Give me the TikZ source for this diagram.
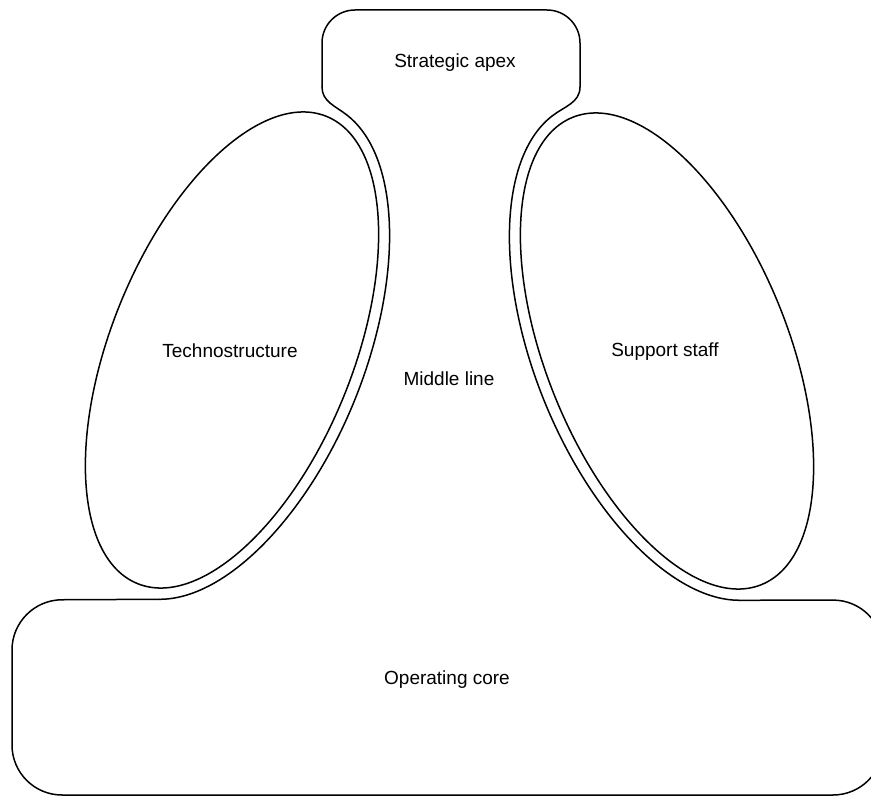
\documentclass[tikz,border=0pt]{standalone}
\usepackage{fontspec}
\setmainfont{Liberation Sans}
\begin{document}
\begin{tikzpicture}[x=1pt,y=1pt,
  outline/.style={line width=1.5pt, line cap=round, line join=round},
  txt/.style={font=\fontsize{19}{23}\selectfont, inner sep=0pt}]
\useasboundingbox (0,0) rectangle (871,796);
\clip (0,0) rectangle (871,796);

% Technostructure and support staff ellipses
\draw[outline, rotate around={68:(232,446)}] (232,446) ellipse [x radius=252, y radius=121];
\draw[outline, rotate around={112:(667,445)}] (667,445) ellipse [x radius=252, y radius=121];

% Middle line: edges running alongside the two ellipses
\begin{scope}[shift={(232,446)}, rotate=68]
  \draw[outline] (191.5:263.5 and 132.5) coordinate (LB)
    arc[start angle=191.5, end angle=352, x radius=263.5, y radius=132.5] coordinate (LJ);
\end{scope}
\begin{scope}[shift={(667,445)}, rotate=112]
  \draw[outline] (8:263.5 and 132.5) coordinate (RJ)
    arc[start angle=8, end angle=168.5, x radius=263.5, y radius=132.5] coordinate (RB);
\end{scope}

% Strategic apex, flaring into the middle line
\coordinate (AL) at (322,709);
\coordinate (AR) at (580,709);
\draw[outline] (LJ) to[out=142, in=-90] (AL);
\draw[outline, rounded corners=33] (AL) -- (322,786) -- (580,786) -- (AR);
\draw[outline] (AR) to[out=-90, in=38] (RJ);

% Operating core
\draw[outline, rounded corners=50] (LB) -- (12,196) -- (12,1) -- (883,1) -- (883,196) -- (RB);

% Labels
\node[txt] (apex) at (455,733) {Strategic apex};
\node[txt] (techno) at (230,445) {Technostructure};
\node[txt] (support) at (665,444) {Support staff};
\node[txt] (middle) at (449,417) {Middle line};
\node[txt] (core) at (447,116) {Operating core};
\end{tikzpicture}
\end{document}
